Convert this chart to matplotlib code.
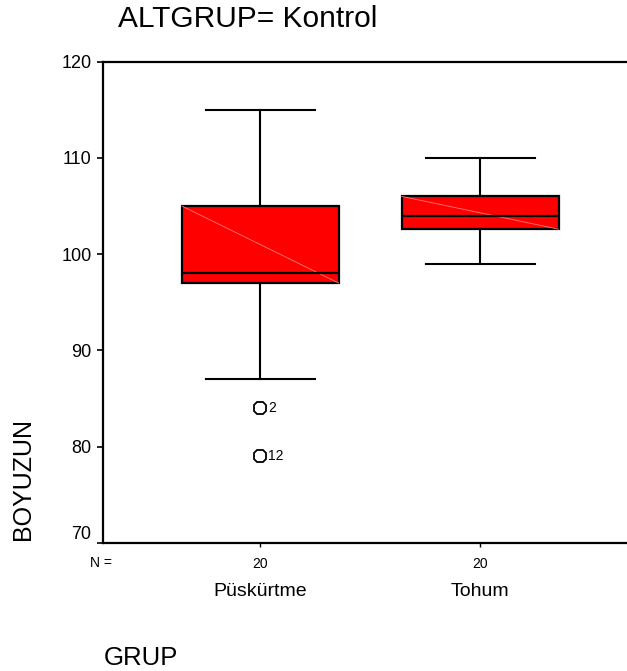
import numpy as np
import matplotlib
matplotlib.use("Agg")
import matplotlib.pyplot as plt
from matplotlib import transforms

groups = ["Püskürtme", "Tohum"]
counts = [20, 20]
whislo = [87, 99]
q1 = [97, 102.6]
med = [98, 104]
q3 = [105, 106]
whishi = [115, 110]
fliers = [[84, 79], []]
flier_cases = [[2, 12], []]

plt.rcParams['font.family'] = ['Liberation Sans', 'DejaVu Sans']

fig = plt.figure(figsize=(6.27, 6.71), dpi=100)
ax = fig.add_axes([0.1638, 0.1908, 0.8362, 0.7173])

pos = [1, 2]
w = 0.713
stats = []
for i, g in enumerate(groups):
    stats.append(dict(label=g, whislo=whislo[i], q1=q1[i], med=med[i], q3=q3[i],
                      whishi=whishi[i], fliers=np.array(fliers[i])))

ax.bxp(stats, positions=pos, widths=w, capwidths=0.495, patch_artist=True,
       boxprops=dict(facecolor='#ff0000', edgecolor='black', linewidth=1.6),
       medianprops=dict(color='black', linewidth=1.6, zorder=3),
       whiskerprops=dict(color='black', linewidth=1.5),
       capprops=dict(color='black', linewidth=1.5),
       flierprops=dict(marker='8', markersize=10, markerfacecolor='none',
                       markeredgecolor='black', markeredgewidth=1.3))

# faint diagonal across each box
for i, p in enumerate(pos):
    ax.plot([p - w / 2, p + w / 2], [q3[i], q1[i]], color='#ff7a7a', lw=0.6, zorder=2.5)
    for v, c in zip(fliers[i], flier_cases[i]):
        ax.annotate(str(c), (p, v), xytext=(5.5, 0), textcoords='offset points',
                    fontsize=10, va='center', ha='left')

ax.set_xlim(0.283, 2.668)
ax.set_ylim(70, 120)
ax.set_yticks([70, 80, 90, 100, 110, 120])
ax.tick_params(axis='y', labelsize=13, length=4.5, width=1.2, pad=3.5)
ax.get_yticklabels()[0].set_va('bottom')
ax.set_xticks(pos)
ax.set_xticklabels([str(n) for n in counts])
ax.tick_params(axis='x', labelsize=10, length=3, width=1, pad=7)
ax.spines['right'].set_visible(False)
for s in ['left', 'top', 'bottom']:
    ax.spines[s].set_linewidth(1.6)

trans = transforms.blended_transform_factory(ax.transData, fig.transFigure)
for p, g in zip(pos, groups):
    ax.text(p, 1 - 592 / 671, g, transform=trans, ha='center', va='center', fontsize=14)

fig.text(101 / 627, 1 - 563 / 671, "N =", fontsize=10, ha='center', va='center')
fig.text(118 / 627, 1 - 27 / 671, "ALTGRUP= Kontrol", fontsize=21.5, ha='left', va='baseline')
fig.text(104 / 627, 1 - 665 / 671, "GRUP", fontsize=18.5, ha='left', va='baseline')
fig.text(23 / 627, 1 - 540 / 671, "BOYUZUN", fontsize=18, rotation=90, ha='center', va='bottom')

fig.savefig("out.png", dpi=100)
